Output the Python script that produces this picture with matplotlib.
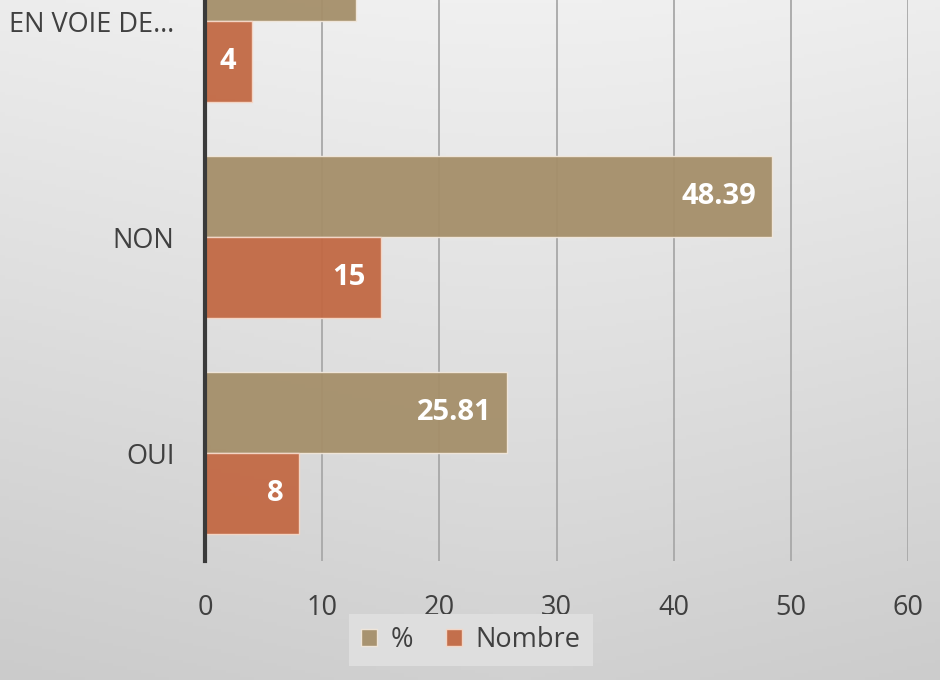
import numpy as np
import matplotlib.pyplot as plt
from matplotlib.colors import LinearSegmentedColormap

plt.rcParams['font.family'] = ['Open Sans', 'DejaVu Sans']

# data
categories = ['OUI', 'NON', 'EN VOIE DE…']
pourcent = [25.81, 48.39, 12.90]
nombre = [8, 15, 4]
xticks = [0, 10, 20, 30, 40, 50, 60]

COL_PCT = '#A58F6A'
COL_NB = '#C26944'
TXT = '#404040'

fig = plt.figure(figsize=(9.4, 6.8), dpi=100)

# gradient background over the whole figure
bg = fig.add_axes([0, 0, 1, 1], zorder=-10)
yy, xx = np.mgrid[0:1:200j, 0:1:200j]
grad = 0.75 * yy + 0.25 * (1 - np.sqrt((xx - 0.55) ** 2 + (yy * 0.3) ** 2))
cmap = LinearSegmentedColormap.from_list('bg', ['#cbcbcb', '#f0f0f0'])
bg.imshow(grad, cmap=cmap, origin='lower', aspect='auto', extent=[0, 1, 0, 1])
bg.axis('off')

# axes extend past the top of the figure (chart is cropped there)
ax = fig.add_axes([205 / 940, 119 / 680, 703 / 940, 648 / 680])
ax.patch.set_alpha(0)

y = np.arange(len(categories))
h = 0.375
b1 = ax.barh(y + h / 2, pourcent, height=h, color=COL_PCT, alpha=0.95,
             edgecolor='#f2e8dc', linewidth=1, label='%', zorder=3)
b2 = ax.barh(y - h / 2, nombre, height=h, color=COL_NB, alpha=0.95,
             edgecolor='#f5d8c8', linewidth=1, label='Nombre', zorder=3)

for bars, vals in ((b1, pourcent), (b2, nombre)):
    for bar, v in zip(bars, vals):
        yc = bar.get_y() + bar.get_height() / 2
        if yc > 2.1:
            # label sits above the visible part of the chart
            continue
        txt = f'{v:.2f}' if isinstance(v, float) else str(v)
        ax.annotate(txt, (bar.get_width(), yc),
                    xytext=(-11, 0), textcoords='offset points',
                    ha='right', va='center', color='white',
                    fontsize=21, fontweight='bold', zorder=5)

ax.set_xlim(0, 60)
ax.set_ylim(-0.5, 2.5)
ax.set_xticks(xticks)
ax.set_yticks(y)
ax.set_yticklabels(categories)
ax.tick_params(axis='both', length=0, labelsize=19.5, colors=TXT)
ax.tick_params(axis='x', pad=24)
ax.tick_params(axis='y', pad=22)
ax.grid(axis='x', color='#a8a8a8', linewidth=1.3, zorder=0)
ax.set_axisbelow(True)
for s in ['top', 'right', 'bottom']:
    ax.spines[s].set_visible(False)
ax.spines['left'].set_color('#3a3a3a')
ax.spines['left'].set_linewidth(3)
ax.spines['left'].set_zorder(4)

leg = fig.legend(loc='center', bbox_to_anchor=(471 / 940, 40 / 680), ncol=2,
                 fontsize=19.5, frameon=True, fancybox=False, handlelength=0.6,
                 handleheight=0.6, handletextpad=0.5, columnspacing=1.2,
                 borderpad=0.45)
leg.get_frame().set_facecolor('#dedede')
leg.get_frame().set_edgecolor('none')
leg.get_frame().set_alpha(1)
for t in leg.get_texts():
    t.set_color(TXT)

fig.savefig('out.png', dpi=100)
